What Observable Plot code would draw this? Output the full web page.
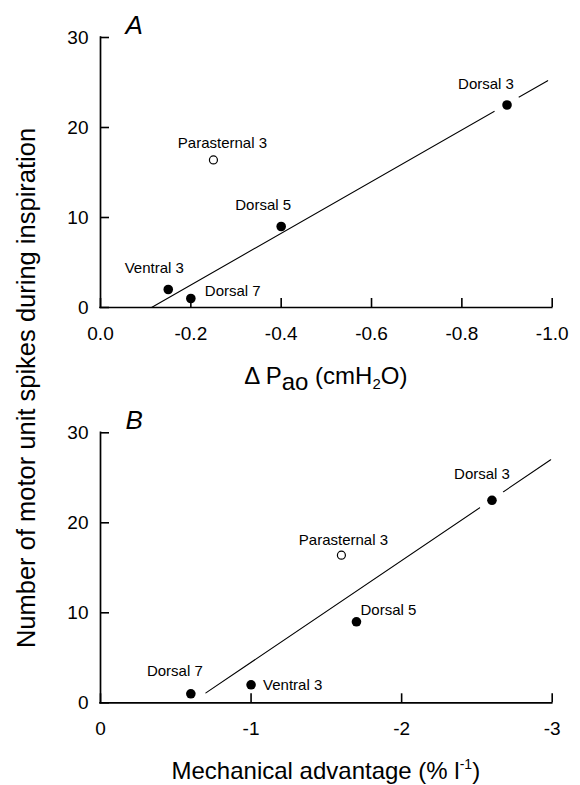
<!DOCTYPE html>
<html>
<head>
<meta charset="utf-8">
<script src="https://cdn.jsdelivr.net/npm/d3@7"></script>
<script src="https://cdn.jsdelivr.net/npm/@observablehq/plot@0.6"></script>
<style>
  html, body { margin: 0; padding: 0; background: white; overflow: hidden; }
  #figure { position: relative; width: 580px; height: 785px; }
  #figure svg { display: block; }
  #ylabel { position: absolute; left: 0; top: 0; pointer-events: none; }
</style>
</head>
<body>
<div id="figure"></div>
<script>
// Motor units recorded in each muscle region
const muscles = ["Dorsal 3", "Parasternal 3", "Dorsal 5", "Ventral 3", "Dorsal 7"];
// Number of motor unit spikes during inspiration
const spikes = [22.5, 16.4, 9, 2, 1];
// Panel A: change in airway opening pressure (cmH2O)
const deltaPao = [-0.9, -0.25, -0.4, -0.15, -0.2];
// Panel B: mechanical advantage (% per litre)
const mechAdvantage = [-2.6, -1.6, -1.7, -1.0, -0.6];
// Regions left out of the regression (open symbol)
const excludedFromFit = ["Parasternal 3"];

// Regression lines (end points)
const fitA_x = [-0.113, -0.99];
const fitA_y = [0, 25.2];
const fitB_x = [-0.70, -2.99];
const fitB_y = [1.1, 27.0];

// Axis ticks
const yTicks = [0, 10, 20, 30];
const xTicksA = [0, -0.2, -0.4, -0.6, -0.8, -1.0];
const xTicksB = [0, -1, -2, -3];

// Label placement around each point (pixels)
const placementA = {
  "Dorsal 3":      {dx: -21, dy: -21, anchor: "middle"},
  "Parasternal 3": {dx: 9,   dy: -17, anchor: "middle"},
  "Dorsal 5":      {dx: -18, dy: -21, anchor: "middle"},
  "Ventral 3":     {dx: -14, dy: -21, anchor: "middle"},
  "Dorsal 7":      {dx: 14,  dy: -7,  anchor: "start"}
};
const placementB = {
  "Dorsal 3":      {dx: -10, dy: -26, anchor: "middle"},
  "Parasternal 3": {dx: 2,   dy: -15, anchor: "middle"},
  "Dorsal 5":      {dx: 4,   dy: -12, anchor: "start"},
  "Ventral 3":     {dx: 12,  dy: 0,   anchor: "start"},
  "Dorsal 7":      {dx: -16, dy: -23, anchor: "middle"}
};
// the fit line is interrupted around this point
const lineBreakAt = "Dorsal 3";

const FONT = "'Liberation Sans', Arial, Helvetica, sans-serif";
const W = 580, ML = 100, MR = 28.3;
const TICK = 9; // inward tick length, px
const Y_DOMAIN = [0, 30];

function panel({xValues, xDomain, xTicks, xFormat, fitX, fitY, placement, height, marginTop, marginBottom, letter}) {
  const innerW = W - ML - MR;
  const innerH = height - marginTop - marginBottom;
  // tick length expressed in each scale's units
  const tickLenY = TICK * (Y_DOMAIN[1] - Y_DOMAIN[0]) / innerH;
  const tickLenX = TICK * (xDomain[1] - xDomain[0]) / innerW;

  const rows = muscles.map((name, i) => ({name, x: xValues[i], y: spikes[i], open: excludedFromFit.includes(name)}));
  const fit = fitX.map((x, i) => ({x, y: fitY[i]}));
  const labels = rows.map(d => {
    const p = placement[d.name];
    return Plot.text([d], {x: "x", y: "y", text: "name", dx: p.dx, dy: p.dy,
      textAnchor: p.anchor, lineAnchor: "middle", fontSize: 15, fill: "black"});
  });
  return Plot.plot({
    width: W, height, marginTop, marginBottom, marginLeft: ML, marginRight: MR,
    style: {fontFamily: FONT, background: "white", color: "black", overflow: "visible"},
    x: {domain: xDomain},
    y: {domain: Y_DOMAIN},
    marks: [
      Plot.line(fit, {x: "x", y: "y", stroke: "black", strokeWidth: 1.1}),
      Plot.dot(rows.filter(d => d.name === lineBreakAt), {x: "x", y: "y", r: 14, fill: "white", stroke: null}),
      Plot.dot(rows.filter(d => !d.open), {x: "x", y: "y", r: 4.8, fill: "black", stroke: null}),
      Plot.dot(rows.filter(d => d.open), {x: "x", y: "y", r: 4, fill: "white", stroke: "black", strokeWidth: 1.2}),
      ...labels,
      Plot.ruleX(xTicks, {x: d => d, y1: Y_DOMAIN[0], y2: Y_DOMAIN[0] + tickLenY, stroke: "black", strokeWidth: 1.6}),
      Plot.ruleY(yTicks, {y: d => d, x1: xDomain[0], x2: xDomain[0] + tickLenX, stroke: "black", strokeWidth: 1.6}),
      Plot.ruleX([xDomain[0]], {stroke: "black", strokeWidth: 1.7, strokeLinecap: "square"}),
      Plot.ruleY([Y_DOMAIN[0]], {stroke: "black", strokeWidth: 1.7, strokeLinecap: "square"}),
      Plot.axisX(xTicks, {tickSize: 0, tickPadding: 19, tickFormat: xFormat, fontSize: 19, label: null, fill: "black"}),
      Plot.axisY(yTicks, {tickSize: 0, tickPadding: 12, fontSize: 19, label: null, fill: "black"}),
      Plot.text([letter], {frameAnchor: "top-left", dx: 25, dy: -4, lineAnchor: "bottom", textAnchor: "start",
        fontStyle: "italic", fontSize: 26, fill: "black"})
    ]
  });
}

const fig = document.getElementById("figure");

const plotA = panel({
  xValues: deltaPao, xDomain: [0, -1], xTicks: xTicksA, xFormat: d => d.toFixed(1),
  fitX: fitA_x, fitY: fitA_y, placement: placementA,
  height: 395, marginTop: 37, marginBottom: 88, letter: "A"
});
const plotB = panel({
  xValues: mechAdvantage, xDomain: [0, -3], xTicks: xTicksB, xFormat: d => String(d),
  fitX: fitB_x, fitY: fitB_y, placement: placementB,
  height: 390, marginTop: 37.3, marginBottom: 82.7, letter: "B"
});
fig.appendChild(plotA);
fig.appendChild(plotB);

// x-axis titles with sub- and superscripts
const cx = ML + (W - ML - MR) / 2;
const tA = d3.select(plotA).append("text")
  .attr("x", cx).attr("y", 383.5).attr("text-anchor", "middle")
  .attr("font-family", FONT).attr("font-size", 24).attr("fill", "black");
tA.append("tspan").text("\u0394 P");
tA.append("tspan").attr("dy", 6).text("ao");
tA.append("tspan").attr("dy", -6).text(" (cmH");
tA.append("tspan").attr("dy", 5).attr("font-size", 15).text("2");
tA.append("tspan").attr("dy", -5).text("O)");

const tB = d3.select(plotB).append("text")
  .attr("x", cx).attr("y", 384.3).attr("text-anchor", "middle")
  .attr("font-family", FONT).attr("font-size", 24).attr("fill", "black");
tB.append("tspan").text("Mechanical advantage (% l");
tB.append("tspan").attr("dy", -10).attr("font-size", 14).text("-1");
tB.append("tspan").attr("dy", 10).text(")");

// shared y-axis title
const overlay = d3.select(fig).append("svg").attr("id", "ylabel")
  .attr("width", W).attr("height", 785);
overlay.append("text")
  .attr("transform", "translate(35,388) rotate(-90)")
  .attr("text-anchor", "middle")
  .attr("font-family", FONT).attr("font-size", 25.5).attr("fill", "black")
  .text("Number of motor unit spikes during inspiration");
</script>
</body>
</html>
